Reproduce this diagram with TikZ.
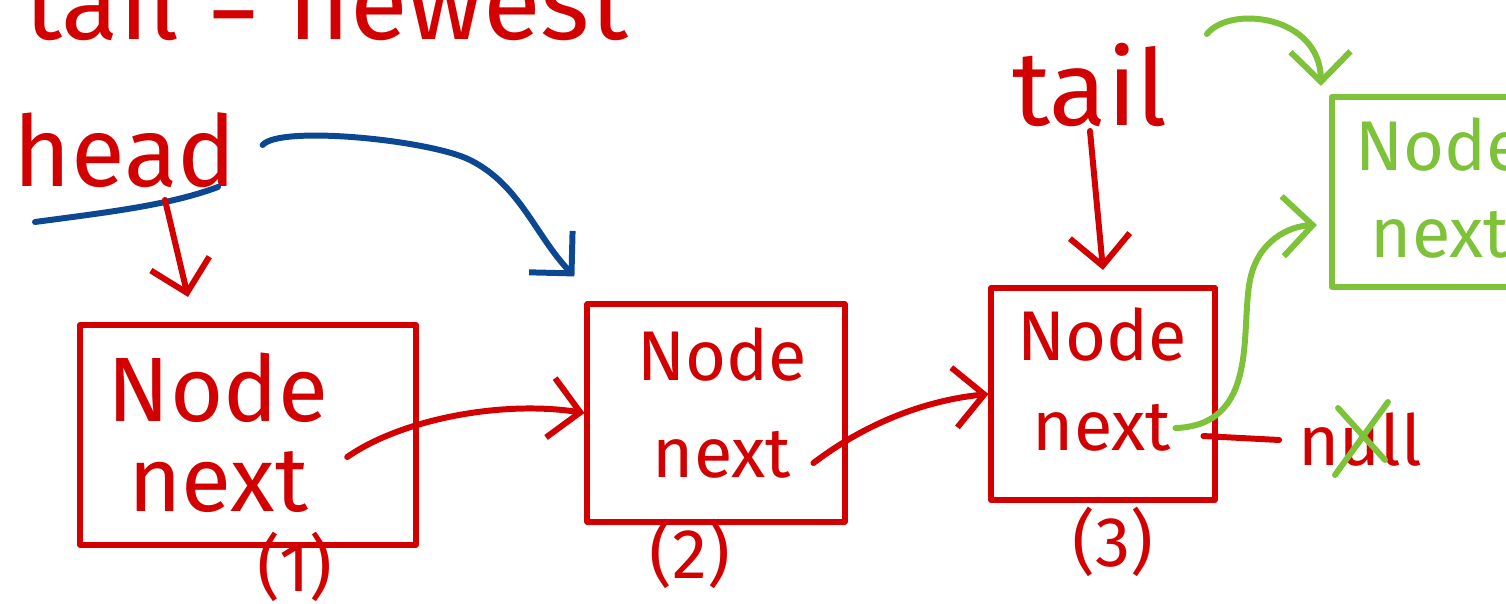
\documentclass[tikz,border=0pt]{standalone}
\usepackage{fontspec}
\setmainfont{Fira Sans}
\usetikzlibrary{arrows.meta,positioning,calc}
\definecolor{penred}{RGB}{210,0,0}
\definecolor{penblue}{RGB}{12,72,146}
\definecolor{pengreen}{RGB}{126,194,58}
\tikzstyle{pen} = [line width=1.7pt, line cap=round, line join=round]
\tikzstyle{box} = [draw=penred, pen, rectangle]
\tikzstyle{ink} = [text=penred, inner sep=1pt]
\tikzstyle{newink} = [text=pengreen, inner sep=1pt]
\tikzstyle{link} = [pen, penred, ->]
\newcommand{\penbig}{\fontsize{26}{31}\selectfont}
\newcommand{\penmid}{\fontsize{20}{24}\selectfont}

\begin{document}
\begin{tikzpicture}[x=0.01cm, y=-0.01cm, >={Straight Barb[length=3mm,width=6mm]}]
    \useasboundingbox (0,0) rectangle (1506,604);
    \clip (0,0) rectangle (1506,604);

    % statement at the top
    \node [ink, anchor=base west, font=\fontsize{30}{36}\selectfont] (stmt) at (20,40) {tail = newest};

    % pointers
    \node [ink, font=\fontsize{28}{34}\selectfont] (head) at (125,150) {head};
    \node [ink, font=\fontsize{30}{36}\selectfont] (tail) at (1090,85) {tail};

    % list nodes
    \node [box, minimum width=3.35cm, minimum height=2.2cm] (box1) at (248,435) {};
    \node [ink, font=\penbig] (node1) at (218,388) {Node};
    \node [ink, font=\penbig, below of=node1, node distance=0.94cm] (next1) {next};
    \node [ink, font=\penmid, below=-0.2cm of box1, xshift=0.47cm] (lab1) {(1)};

    \node [box, minimum width=2.57cm, minimum height=2.17cm] (box2) at (716,413) {};
    \node [ink, font=\penmid] (node2) at (722,355) {Node};
    \node [ink, font=\penmid, below of=node2, node distance=1cm] (next2) {next};
    \node [ink, font=\penmid, below=-0.1cm of box2, xshift=-0.26cm] (lab2) {(2)};

    \node [box, minimum width=2.23cm, minimum height=2.12cm] (box3) at (1103,394) {};
    \node [ink, font=\penmid] (node3) at (1102,335) {Node};
    \node [ink, font=\penmid, below of=node3, node distance=0.93cm] (next3) {next};
    \node [ink, font=\penmid, below=0cm of box3, xshift=0.1cm] (lab3) {(3)};

    % the new node
    \node [box, draw=pengreen, minimum width=2.3cm, minimum height=1.9cm] (box4) at (1447,192) {};
    \node [newink, font=\penmid] (node4) at (1440,145) {Node};
    \node [newink, font=\penmid, below of=node4, node distance=0.9cm] (next4) {next};

    \node [ink, font=\penmid] (null) at (1360,440) {null};

    % head
    \draw [pen, penblue] ([shift={(-90,72)}]head.center) .. controls (110,212) and (170,205) .. ([shift={(93,37)}]head.center);
    \draw [link] ([shift={(40,50)}]head.center) -- ([shift={(-60,-25)}]box1.north);
    \draw [pen, penblue, ->] ([shift={(22,-5)}]head.east) .. controls (280,125) and (430,140) .. (470,160)
        .. controls (520,185) and (535,235) .. ([shift={(-10,-25)}]box2.north west);

    % next links
    \draw [link] ([shift={(35,-25)}]next1.east) .. controls (400,420) and (500,400) .. (box2.west);
    \draw [link] ([shift={(18,8)}]next2.east) .. controls (870,420) and (930,400) .. (box3.west);
    \draw [link] (tail.south) -- ([yshift=0.15cm]box3.north);
    \draw [pen, penred] ([shift={(28,8)}]next3.east) -- ([xshift=-0.15cm]null.west);

    % re-linking to the new node
    \draw [pen, pengreen] ([shift={(-25,35)}]null.center) -- ([shift={(28,-38)}]null.center);
    \draw [pen, pengreen] ([shift={(-22,-32)}]null.center) -- ([shift={(25,20)}]null.center);
    \draw [pen, pengreen, ->] (next3.east) .. controls (1260,425) and (1240,330) .. (1250,280)
        .. controls (1258,240) and (1290,226) .. ([shift={(-12,33)}]box4.west);
    \draw [pen, pengreen, ->] ([shift={(35,-5)}]tail.north east) .. controls (1230,5) and (1320,15) .. ([shift={(-8,-8)}]box4.north west);
\end{tikzpicture}
\end{document}
